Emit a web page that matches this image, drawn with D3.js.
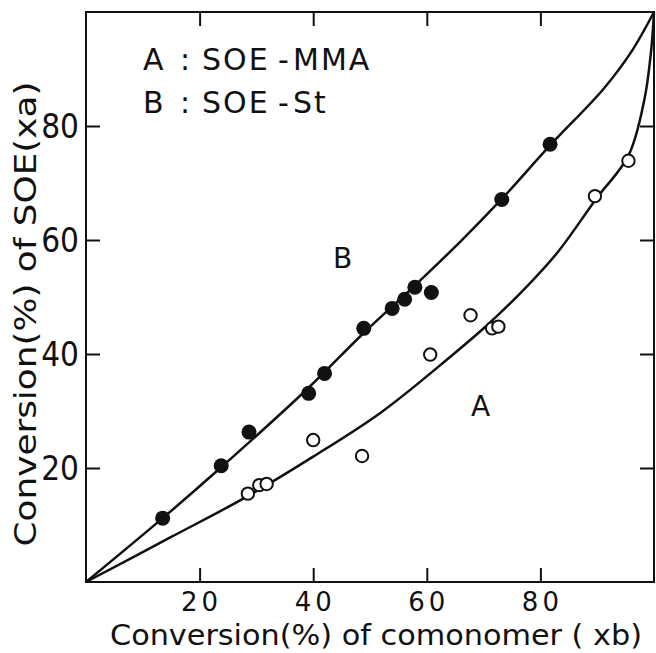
<!DOCTYPE html>
<html lang="en">
<head>
  <meta charset="UTF-8">
  <title>SOE conversion</title>
  <script src="https://d3js.org/d3.v7.min.js"></script>
  <style>
    body { margin: 0; background: #fff; }
    svg { display: block; }
    .lbl { font-family: "DejaVu Sans", sans-serif; fill: #111; }
    .cond { font-family: "DejaVu Sans Condensed", "DejaVu Sans", sans-serif; fill: #111; }
  </style>
</head>
<body>
  <svg id="chart" width="656" height="653"></svg>
  <script>
    // ticks
    const xTicks = [20, 40, 60, 80];
    const yTicks = [20, 40, 60, 80];

    // B : SOE - St (filled circles)
    const stX = [13.5, 23.8, 28.7, 39.2, 42.0, 48.9, 53.9, 56.1, 57.9, 60.8, 73.2, 81.7];
    const stY = [11.2, 20.4, 26.3, 33.1, 36.6, 44.5, 48.0, 49.6, 51.7, 50.8, 67.1, 76.8];

    // A : SOE - MMA (open circles)
    const mmaX = [28.5, 30.5, 31.8, 40.0, 48.6, 60.6, 67.7, 71.5, 72.6, 89.6, 95.5];
    const mmaY = [15.5, 17.0, 17.2, 24.9, 22.1, 39.9, 46.8, 44.5, 44.8, 67.7, 73.9];

    // drawn curves
    const curveBX = [0, 13.5, 24, 39, 48.8, 58.3, 66, 73.2, 81.7, 91.1, 96, 100];
    const curveBY = [0, 11.2, 20.3, 33.9, 43.6, 52.4, 59.8, 67.2, 76.6, 86.5, 93, 100];
    const curveAX = [0, 15, 28, 40, 52, 64, 71, 77, 83, 89.8, 95.5, 98.3, 99.5, 100];
    const curveAY = [0, 7.9, 14.8, 22, 29.8, 39.4, 45.4, 51.2, 57.8, 67.2, 74.8, 84.6, 93.3, 100];

    const mLeft = 86, mRight = 654, mTop = 12, mBottom = 582;
    const tickLen = 14;

    const svg = d3.select("#chart");
    const x = d3.scaleLinear().domain([0, 100]).range([mLeft, mRight]);
    const y = d3.scaleLinear().domain([0, 100]).range([mBottom, mTop]);

    // frame
    svg.append("rect")
      .attr("x", mLeft).attr("y", mTop)
      .attr("width", mRight - mLeft).attr("height", mBottom - mTop)
      .attr("fill", "none").attr("stroke", "#111").attr("stroke-width", 2);

    // inward ticks on all four sides, labels on bottom and left
    const bottomAxis = d3.axisBottom(x).tickValues(xTicks).tickSizeInner(-tickLen).tickSizeOuter(0).tickFormat("");
    const topAxis = d3.axisTop(x).tickValues(xTicks).tickSizeInner(-tickLen).tickSizeOuter(0).tickFormat("");
    const leftAxis = d3.axisLeft(y).tickValues(yTicks).tickSizeInner(-tickLen).tickSizeOuter(0).tickFormat("");
    const rightAxis = d3.axisRight(y).tickValues(yTicks).tickSizeInner(-tickLen).tickSizeOuter(0).tickFormat("");

    [[bottomAxis, `translate(0,${mBottom})`], [topAxis, `translate(0,${mTop})`],
     [leftAxis, `translate(${mLeft},0)`], [rightAxis, `translate(${mRight},0)`]].forEach(([ax, tr]) => {
      const g = svg.append("g").attr("transform", tr).call(ax);
      g.select(".domain").remove();
      g.selectAll(".tick line").attr("stroke", "#111").attr("stroke-width", 2);
    });

    svg.selectAll(".xtl")
      .data(xTicks)
      .enter().append("text")
      .attr("class", "lbl")
      .attr("x", d => x(d) + 2)
      .attr("y", 611)
      .attr("text-anchor", "middle")
      .attr("font-size", 26)
      .attr("letter-spacing", 4)
      .text(d => d);

    svg.selectAll(".ytl")
      .data(yTicks)
      .enter().append("text")
      .attr("class", "cond")
      .attr("x", 79)
      .attr("y", d => y(d) + 12)
      .attr("text-anchor", "end")
      .attr("font-size", 33)
      .text(d => d);

    // axis titles
    svg.append("text")
      .attr("class", "cond")
      .attr("x", 376).attr("y", 645)
      .attr("text-anchor", "middle")
      .attr("font-size", 29)
      .attr("textLength", 532)
      .attr("lengthAdjust", "spacingAndGlyphs")
      .text("Conversion(%) of comonomer ( xb)");

    svg.append("text")
      .attr("class", "cond")
      .attr("transform", "translate(36,314) rotate(-90)")
      .attr("text-anchor", "middle")
      .attr("font-size", 31)
      .attr("textLength", 465)
      .attr("lengthAdjust", "spacingAndGlyphs")
      .text("Conversion(%) of SOE(xa)");

    // legend, each piece placed where it sits in the figure
    const legendRows = [
      { yy: 70, parts: [["A", 143], [":", 180], ["SOE", 202], ["-", 278], ["MMA", 293]] },
      { yy: 113, parts: [["B", 143], [":", 180], ["SOE", 202], ["-", 278], ["St", 293]] }
    ];
    legendRows.forEach(row => {
      row.parts.forEach(([t, px]) => {
        svg.append("text").attr("class", "lbl")
          .attr("x", px).attr("y", row.yy).attr("font-size", 30)
          .attr("letter-spacing", 2)
          .text(t);
      });
    });

    // curve labels
    svg.append("text").attr("class", "lbl")
      .attr("x", 333).attr("y", 268).attr("font-size", 28).text("B");
    svg.append("text").attr("class", "lbl")
      .attr("x", 471).attr("y", 416).attr("font-size", 28).text("A");

    // curves
    const line = d3.line().x(d => x(d[0])).y(d => y(d[1])).curve(d3.curveCatmullRom.alpha(0.5));
    svg.append("path")
      .attr("d", line(d3.zip(curveBX, curveBY)))
      .attr("fill", "none").attr("stroke", "#111").attr("stroke-width", 2.5);
    svg.append("path")
      .attr("d", line(d3.zip(curveAX, curveAY)))
      .attr("fill", "none").attr("stroke", "#111").attr("stroke-width", 2.5);

    // points
    svg.selectAll(".st")
      .data(d3.zip(stX, stY))
      .enter().append("circle")
      .attr("cx", d => x(d[0])).attr("cy", d => y(d[1]))
      .attr("r", 7.5).attr("fill", "#111");

    svg.selectAll(".mma")
      .data(d3.zip(mmaX, mmaY))
      .enter().append("circle")
      .attr("cx", d => x(d[0])).attr("cy", d => y(d[1]))
      .attr("r", 6.2).attr("fill", "#fff").attr("stroke", "#111").attr("stroke-width", 2);
  </script>
</body>
</html>
